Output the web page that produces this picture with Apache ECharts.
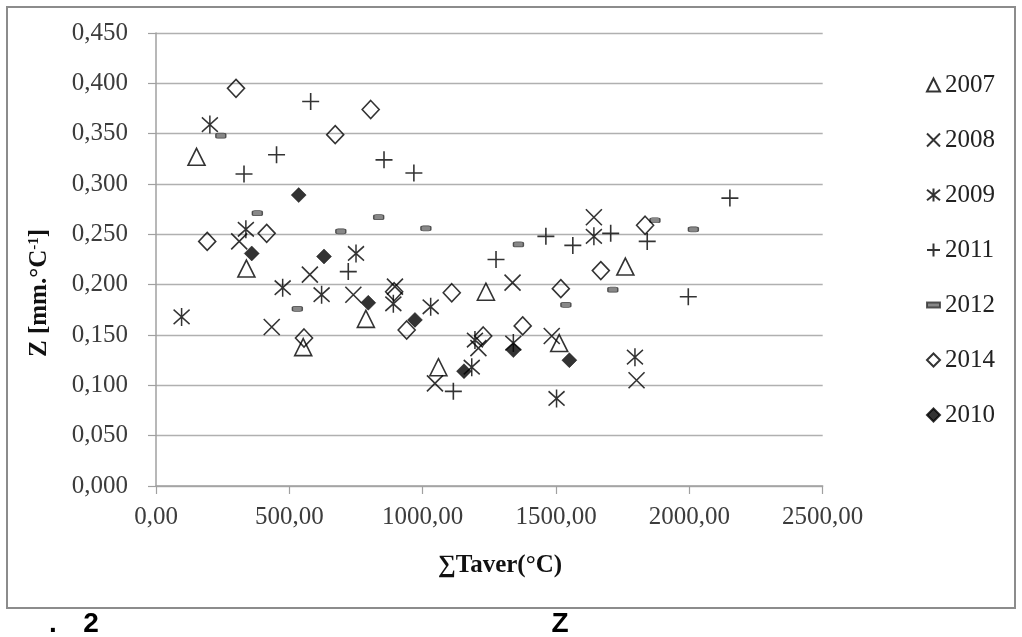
<!DOCTYPE html>
<html>
<head>
<meta charset="utf-8">
<script src="https://cdn.jsdelivr.net/npm/echarts@6/dist/echarts.min.js"></script>
<style>
html,body{margin:0;padding:0;background:#fff;}
#chart{width:1022px;height:637px;}
</style>
</head>
<body>
<div id="chart"></div>
<script>
// ---- data (x = ∑Taver °C, y = Z) ----
const s2007 = [[152,0.327],[339,0.216],[552,0.138],[787,0.166],[1059,0.118],[1237,0.193],[1512,0.142],[1760,0.218]];
const s2008 = [[312,0.243],[434,0.158],[577,0.210],[740,0.190],[896,0.198],[1046,0.102],[1209,0.137],[1337,0.202],[1484,0.149],[1642,0.267],[1802,0.105]];
const s2009 = [[96,0.168],[202,0.359],[337,0.255],[475,0.197],[621,0.190],[750,0.231],[890,0.181],[1030,0.178],[1184,0.118],[1196,0.145],[1340,0.142],[1502,0.087],[1642,0.248],[1796,0.128]];
const s2011 = [[330,0.310],[452,0.329],[580,0.382],[721,0.213],[855,0.324],[967,0.311],[1115,0.094],[1275,0.225],[1462,0.248],[1563,0.239],[1705,0.251],[1842,0.243],[1996,0.188],[2152,0.286]];
const s2012 = [[243,0.348],[380,0.271],[530,0.176],[693,0.253],[835,0.267],[1012,0.256],[1359,0.240],[1537,0.180],[1713,0.195],[1871,0.264],[2015,0.255]];
const s2014 = [[192,0.243],[300,0.395],[415,0.251],[555,0.147],[672,0.349],[805,0.374],[893,0.193],[940,0.155],[1109,0.192],[1227,0.149],[1375,0.159],[1518,0.196],[1668,0.214],[1834,0.259]];
const s2010 = [[359,0.231],[535,0.289],[630,0.228],[796,0.182],[971,0.165],[1155,0.114],[1340,0.135],[1550,0.125]];
const legendOrder = ['2007','2008','2009','2011','2012','2014','2010'];
const xAxisTitle = '∑Taver(°C)';
const bottomTexts = ['.', '2', 'Z'];

const serif = '"Liberation Serif","Times New Roman",serif';
const chart = echarts.init(document.getElementById('chart'), null, {renderer:'canvas'});

const hollow = {color:'rgba(255,255,255,0)', borderColor:'#000', borderWidth:1.6};
const PATH_X = 'path://M0,0L10,10M10,0L0,10';
const PATH_AST = 'path://M0,1L10,9M10,1L0,9M5,0L5,10';
const PATH_PLUS = 'path://M5,0L5,10M0,5L10,5';

function sc(name, data, symbol, size, style){
  return {name, type:'scatter', data, symbol, symbolSize:size, itemStyle:style,
          emphasis:{disabled:true}, silent:true};
}

const option = {
  animation:false,
  backgroundColor:'#fff',
  grid:{left:156, right:199.3, top:33, bottom:151, containLabel:false},
  xAxis:{
    type:'value', min:0, max:2500, interval:500,
    axisLine:{show:true, onZero:false, lineStyle:{color:'#a0a0a0', width:1.5}},
    axisTick:{show:true, length:8, lineStyle:{color:'#a0a0a0', width:1.2}},
    axisLabel:{margin:19, fontFamily:serif, fontSize:25, color:'#3c3c3c',
      formatter:v=>v.toFixed(2).replace('.',',')},
    splitLine:{show:false}
  },
  yAxis:{
    type:'value', min:0, max:0.45, interval:0.05,
    axisLine:{show:true, lineStyle:{color:'#a0a0a0', width:1.5}},
    axisTick:{show:true, length:8, lineStyle:{color:'#a0a0a0', width:1.2}},
    axisLabel:{margin:28, fontFamily:serif, fontSize:25, color:'#3c3c3c',
      formatter:v=>v.toFixed(3).replace('.',',')},
    splitLine:{show:true, lineStyle:{color:'#b0b0b0', width:1.3}}
  },
  legend:{
    orient:'vertical', left:921, top:67.5, itemWidth:13, itemHeight:13, itemGap:30,
    textStyle:{fontFamily:serif, fontSize:25, color:'#222', lineHeight:25},
    data:legendOrder.map(n=> n==='2012' ? {name:n, icon:'path://M0,0h10v4h-10z'} : {name:n}),
    selectedMode:false
  },
  series:[
    sc('2007', s2007, 'triangle', 17, hollow),
    sc('2008', s2008, PATH_X, 16, hollow),
    sc('2009', s2009, PATH_AST, [16,18], hollow),
    sc('2011', s2011, PATH_PLUS, 17, hollow),
    sc('2012', s2012, 'roundRect', [10,5], {color:'#6a6a6a', borderColor:'#333', borderWidth:1}),
    sc('2014', s2014, 'diamond', [17,18], hollow),
    sc('2010', s2010, 'diamond', 15, {color:'#000', borderColor:'#000', borderWidth:0.5})
  ],
  graphic:[
    {type:'rect', shape:{x:7, y:7, width:1008, height:601}, style:{fill:'none', stroke:'#8c8c8c', lineWidth:2}, silent:true, z:-1},
    {type:'text', x:40, y:293, rotation:Math.PI/2, silent:true,
      style:{text:'{a|Z [mm.°C}{s|-1}{a|]}', align:'center', verticalAlign:'middle',
        rich:{a:{fontFamily:serif, fontWeight:'bold', fontSize:25, fill:'#111', lineHeight:26},
              s:{fontFamily:serif, fontWeight:'bold', fontSize:15, fill:'#111', verticalAlign:'top', lineHeight:16}}}},
    {type:'text', x:500, y:566, silent:true,
      style:{text:xAxisTitle, align:'center', verticalAlign:'middle', fontFamily:serif, fontWeight:'bold', fontSize:25, fill:'#111'}},
    {type:'text', x:53, y:624, silent:true,
      style:{text:bottomTexts[0], align:'center', verticalAlign:'middle', fontFamily:'"Liberation Sans Narrow","Liberation Sans",sans-serif', fontWeight:'bold', fontSize:28, fill:'#000'}},
    {type:'text', x:91, y:624, silent:true,
      style:{text:bottomTexts[1], align:'center', verticalAlign:'middle', fontFamily:'"Liberation Sans Narrow","Liberation Sans",sans-serif', fontWeight:'bold', fontSize:28, fill:'#000'}},
    {type:'text', x:560, y:624, silent:true,
      style:{text:bottomTexts[2], align:'center', verticalAlign:'middle', fontFamily:'"Liberation Sans Narrow","Liberation Sans",sans-serif', fontWeight:'bold', fontSize:28, fill:'#000'}}
  ]
};
chart.setOption(option);
</script>
</body>
</html>
